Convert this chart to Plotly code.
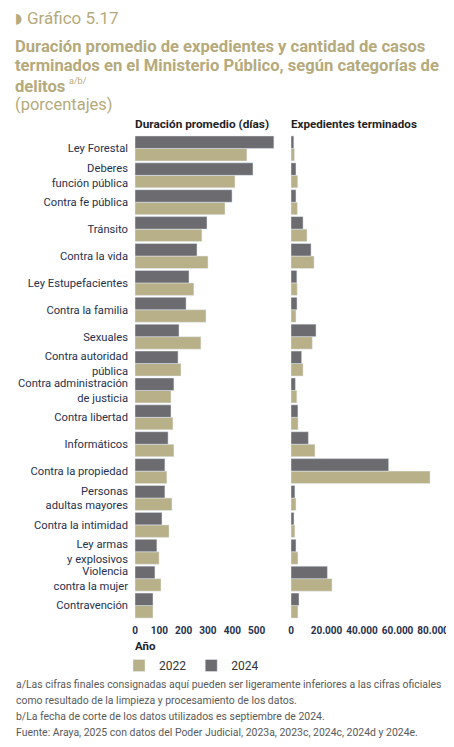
import plotly.graph_objects as go
from plotly.subplots import make_subplots

# page body has an 8px margin; figure is sized to fit inside the window
OFF = 8
W, H = 446, 731

categories = [
    "Ley Forestal", "Deberes<br>función pública", "Contra fe pública", "Tránsito",
    "Contra la vida", "Ley Estupefacientes", "Contra la familia", "Sexuales",
    "Contra autoridad<br>pública", "Contra administración<br>de justicia",
    "Contra libertad", "Informáticos", "Contra la propiedad",
    "Personas<br>adultas mayores", "Contra la intimidad", "Ley armas<br>y explosivos",
    "Violencia<br>contra la mujer", "Contravención",
]
duracion_2022 = [460, 411, 370, 275, 300, 242, 292, 271, 189, 148, 156, 160, 131, 152, 140, 99, 107, 74]
duracion_2024 = [571, 485, 399, 296, 255, 222, 210, 181, 177, 160, 148, 136, 123, 123, 111, 90, 82, 74]
terminados_2022 = [2000, 3800, 3600, 9000, 13000, 3500, 2800, 12000, 6800, 3300, 4000, 13500, 78300, 2800, 2200, 3900, 23100, 3900]
terminados_2024 = [1600, 2800, 2800, 6800, 11300, 3300, 3400, 14100, 6000, 2500, 3900, 9800, 55000, 2200, 1700, 2800, 20500, 4500]
years = ["2022", "2024"]

GOLD = "#b8b088"
GRAY = "#6b6b70"
NAVY = "#27314d"
TITLE = "#b5aa7c"
FOOT = "#5a5a5a"
FONT = "Roboto, Liberation Sans, sans-serif"

def X(px):
    return (px - OFF) / W

def P(py):
    return 1 - (py - OFF) / H

fig = make_subplots(rows=1, cols=2, shared_yaxes=False)

for yr, vals, col in [(years[0], duracion_2022, GOLD), (years[1], duracion_2024, GRAY)]:
    fig.add_trace(go.Bar(y=categories, x=vals, orientation="h", name=yr, marker_color=col,
                         legendgroup=yr, showlegend=True), row=1, col=1)
for yr, vals, col in [(years[0], terminados_2022, GOLD), (years[1], terminados_2024, GRAY)]:
    fig.add_trace(go.Bar(y=categories, x=vals, orientation="h", name=yr, marker_color=col,
                         legendgroup=yr, showlegend=False), row=1, col=2)

ydom = [P(619), P(135)]
order = list(reversed(categories))
tickf = dict(size=10, color=NAVY, family=FONT, weight="bold")
fig.update_layout(
    width=W, height=H, margin=dict(l=0, r=0, t=0, b=0, autoexpand=False),
    paper_bgcolor="white", plot_bgcolor="white",
    barmode="group", bargap=0.07, bargroupgap=0,
    separators=",.",
    font=dict(family=FONT, color=NAVY),
    xaxis=dict(domain=[X(135), X(279.5)], range=[0, 594], dtick=100, showgrid=False,
               zeroline=False, showline=False, ticks="", tickangle=0, automargin=False,
               ticklabelstandoff=4, tickfont=tickf),
    xaxis2=dict(domain=[X(291), X(440)], range=[0, 83900], dtick=20000, tickformat=",d",
                showgrid=False, zeroline=False, showline=False, ticks="", tickangle=0,
                automargin=False, ticklabelstandoff=4, tickfont=tickf),
    yaxis=dict(domain=ydom, categoryorder="array", categoryarray=order, showgrid=False,
               ticks="", ticklabelstandoff=6, automargin=False,
               tickfont=dict(size=11.2, color=NAVY, family=FONT)),
    yaxis2=dict(domain=ydom, categoryorder="array", categoryarray=order, showgrid=False,
                showticklabels=False, ticks="", matches="y", automargin=False),
    legend=dict(orientation="h", x=X(119), xanchor="left", y=P(651), yanchor="top",
                font=dict(size=12, color="#333", family=FONT),
                itemwidth=30, tracegroupgap=0, bgcolor="rgba(0,0,0,0)"),
)

ann = []
def A(text, x, py, size, color, family=FONT, xanchor="left"):
    ann.append(dict(text=text, x=X(x), y=P(py), xref="paper", yref="paper", showarrow=False,
                    xanchor=xanchor, yanchor="middle", align="left",
                    font=dict(size=size, color=color, family=family)))

A("◗", 13, 18, 14, TITLE, family="DejaVu Sans")
A("Gráfico 5.17", 25, 18, 17, TITLE)
A("<b>Duración promedio de expedientes y cantidad de casos</b>", 13, 46, 16.6, TITLE)
A("<b>terminados en el Ministerio Público, según categorías de</b>", 13, 66, 16.6, TITLE)
A("<b>delitos</b>", 13, 86, 16.6, TITLE)
A("a/b/", 67, 81, 9, TITLE)
A("(porcentajes)", 13, 104, 16.5, TITLE)
A("<b>Duración promedio (días)</b>", 133, 124, 11.8, "#1f1f1f")
A("<b>Expedientes terminados</b>", 289, 124, 11.6, "#1f1f1f")
A("<b>Año</b>", 133, 646, 11.5, "#222")
A("a/Las cifras finales consignadas aquí pueden ser ligeramente inferiores a las cifras oficiales", 14, 684, 10.45, FOOT)
A("como resultado de la limpieza y procesamiento de los datos.", 14, 700, 10.45, FOOT)
A("b/La fecha de corte de los datos utilizados es septiembre de 2024.", 14, 716, 10.45, FOOT)
A("Fuente: Araya, 2025 con datos del Poder Judicial, 2023a, 2023c, 2024c, 2024d y 2024e.", 14, 732, 10.45, FOOT)
fig.update_layout(annotations=ann)

fig.write_html("out.html")
